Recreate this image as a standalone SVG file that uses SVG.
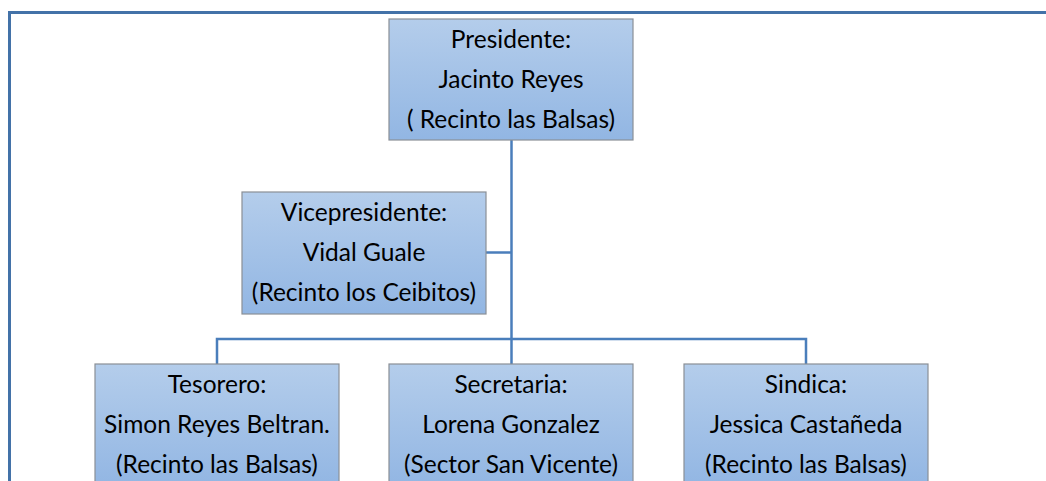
<svg xmlns="http://www.w3.org/2000/svg" width="1046" height="481" viewBox="0 0 1046 481">
<defs>
<linearGradient id="g" x1="0" y1="0" x2="0" y2="1">
<stop offset="0" stop-color="#b4cdeb"/>
<stop offset="1" stop-color="#92b6e3"/>
</linearGradient>
<style>
.box{fill:url(#g);stroke:#8a8f96;stroke-width:1.2}
.t{font-family:Lato,"Liberation Sans",sans-serif;font-size:24.5px;fill:#000;text-anchor:middle}
.c{stroke:#4a7ebb;stroke-width:2.5;fill:none}
.frame{stroke:#4372a8;stroke-width:3;fill:none}
</style>
</defs>
<rect width="1046" height="481" fill="#fff"/>
<path class="frame" d="M9.5 481 V12.5 H1046"/>
<g id="connectors">
<path class="c" d="M511.5 140 V364"/>
<path class="c" d="M486 252.5 H511.5"/>
<path class="c" d="M217 364 V339 H806 V364"/>
</g>
<g id="presidente">
<rect class="box" x="389" y="19" width="244" height="121"/>
<text class="t" x="511" y="48">Presidente:</text>
<text class="t" x="511" y="88">Jacinto Reyes</text>
<text class="t" x="511" y="128">( Recinto las Balsas)</text>
</g>
<g id="vicepresidente">
<rect class="box" x="242" y="192" width="244" height="122"/>
<text class="t" x="364" y="221">Vicepresidente:</text>
<text class="t" x="364" y="261">Vidal Guale</text>
<text class="t" x="364" y="301">(Recinto los Ceibitos)</text>
</g>
<g id="tesorero">
<rect class="box" x="95" y="364" width="244" height="122"/>
<text class="t" x="217" y="393">Tesorero:</text>
<text class="t" x="217" y="433">Simon Reyes Beltran.</text>
<text class="t" x="217" y="473">(Recinto las Balsas)</text>
</g>
<g id="secretaria">
<rect class="box" x="389" y="364" width="244" height="122"/>
<text class="t" x="511" y="393">Secretaria:</text>
<text class="t" x="511" y="433">Lorena Gonzalez</text>
<text class="t" x="511" y="473">(Sector San Vicente)</text>
</g>
<g id="sindica">
<rect class="box" x="684" y="364" width="244" height="122"/>
<text class="t" x="806" y="393">Sindica:</text>
<text class="t" x="806" y="433">Jessica Castañeda</text>
<text class="t" x="806" y="473">(Recinto las Balsas)</text>
</g>
</svg>
